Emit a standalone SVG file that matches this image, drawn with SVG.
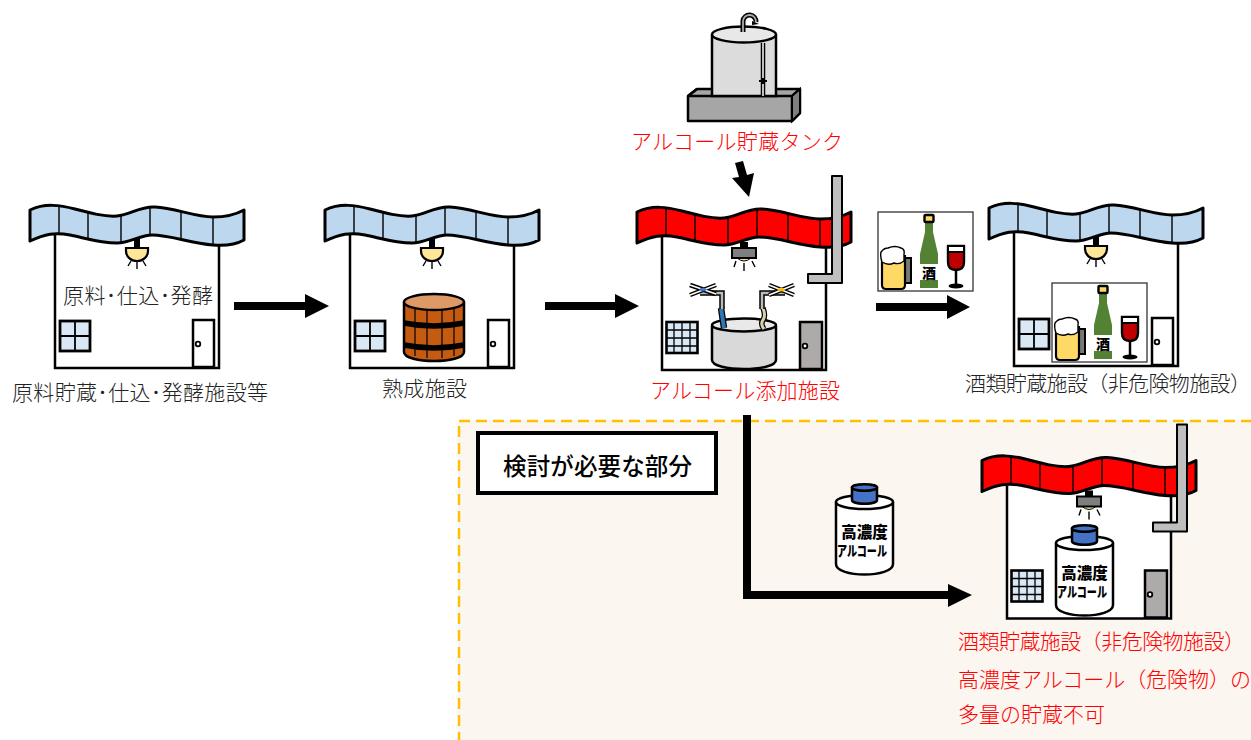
<svg xmlns="http://www.w3.org/2000/svg" width="1251" height="740" viewBox="0 0 1251 740">
<style>
.l{font-family:"Noto Sans CJK JP","Liberation Sans",sans-serif;font-weight:300;font-size:21px;fill:#222}
.r{fill:#ff0000}
.w{fill:#fff;stroke:#000;stroke-width:2.5}
.ln{fill:none;stroke:#000;stroke-width:1.4}
.b{font-family:"Noto Sans CJK JP","Liberation Sans",sans-serif;font-weight:900;fill:#000}
</style>
<defs>
<g id="roof">
<path stroke="#000" stroke-width="3" stroke-linejoin="round" d="M30,210C45,203 60,205 75,209C90,213 105,217 117,216C130,215 140,206 155,207C175,208 195,217 213,217C225,217 235,215 244,210L244,240C235,245 225,246 213,245C190,243 170,235 152,235C140,235 130,243 117,243C100,243 85,238 70,235C55,232 45,234 30,241Z"/>
<path class="ln" d="M59,206V233M88,212V238M121,216V243M150,207V235M181,211V239M213,217V245"/>
</g>
<g id="walls"><path fill="#fff" stroke="#000" stroke-width="2.5" d="M55,235V368H219V240"/></g>
<g id="lamp">
<rect x="134" y="239" width="6" height="10" fill="#000"/>
<path d="M126,248H148V251A11,10 0 0 1 126,251Z" fill="#ffe699" stroke="#000" stroke-width="2.200"/>
<path class="ln" d="M131,261L128,266M137,262V269M143,261L146,266"/>
</g>
<g id="lampg">
<rect x="133" y="240" width="8" height="8" fill="#000"/>
<path d="M130,256Q137,262 144,256Z" fill="#ffe699" stroke="#000"/>
<rect x="125" y="246" width="24" height="10" fill="#7f7f7f" stroke="#000" stroke-width="2"/>
<path class="ln" d="M129,259L127,265M137,261V269M145,259L148,265"/>
</g>
<g id="win">
<rect x="60" y="321" width="30" height="30" fill="#dae8f6" stroke="#000" stroke-width="2.800"/>
<path d="M75,321V351M60,336H90" stroke="#000" stroke-width="1.800"/>
</g>
<g id="door">
<rect x="193" y="320" width="21" height="47" class="w"/>
<circle cx="198" cy="344" r="2.300" fill="#fff" stroke="#000" stroke-width="1.800"/>
</g>
<g id="bldg">
<use href="#walls"/><use href="#lamp"/><use href="#win"/><use href="#door"/>
</g>
<g id="bldr">
<use href="#walls"/>
<use href="#lampg"/>
<rect x="59.500" y="320" width="31" height="31" fill="#dae8f6" stroke="#000" stroke-width="2.600"/>
<path d="M67,320V351M75,320V351M83,320V351M59.500,328H90.500M59.500,336H90.500M59.500,344H90.500" stroke="#000" stroke-width="1.300"/>
<rect x="193" y="320" width="22" height="47" fill="#aeaaaa" stroke="#000" stroke-width="2.500"/>
<circle cx="198" cy="344" r="2.300" fill="#fff" stroke="#000" stroke-width="1.800"/>
<use href="#roof" fill="#ff0000"/>
<path d="M225,174H235V281H201V272H225Z" fill="#bfbfbf" stroke="#000" stroke-width="2" stroke-linejoin="round"/>
</g>
<g id="alc">
<path d="M1056,544V605C1056,619 1113,619 1113,605V544Z" fill="#fff" stroke="#000" stroke-width="2.500"/>
<ellipse cx="1084.500" cy="543" rx="28.500" ry="7" fill="#fff" stroke="#000" stroke-width="2.500"/>
<path d="M1072,529V541C1072,546 1097,546 1097,541V529Z" fill="#4472c4" stroke="#000" stroke-width="2.500"/>
<ellipse cx="1084.500" cy="528.500" rx="12.500" ry="3.200" fill="#4472c4" stroke="#000" stroke-width="2.500"/>
<text class="b" x="1084.500" y="579" font-size="15.500" text-anchor="middle">高濃度</text>
<text class="b" x="1057" y="597" font-size="14" textLength="50" lengthAdjust="spacingAndGlyphs">アルコール</text>
</g>
<g id="drinks">
<path d="M905,258H911V283H905" fill="#777" stroke="#000" stroke-width="2"/>
<path d="M882,256V285Q882,289 886,289H901Q905,289 905,285V256Z" fill="#ffd966" stroke="#000" stroke-width="2.200"/>
<path d="M882,262Q880,256 881,252Q884,248 888,248Q895,245 901,248Q905,249 904,254V261Q899,265 894,263Q888,266 882,262Z" fill="#fff" stroke="#000" stroke-width="1.400"/>
<path d="M925,222H933V232L938,254V288H920V254L925,232Z" fill="#548235"/>
<rect x="924.500" y="215" width="9" height="7" rx="1" fill="#ffd966" stroke="#000" stroke-width="2.400"/>
<rect x="920" y="264" width="18" height="16" fill="#fff"/>
<text class="b" x="929" y="278" font-size="14" text-anchor="middle">酒</text>
<path d="M948,246H964V262Q964,270 956,270Q948,270 948,262Z" fill="#c00000" stroke="#000" stroke-width="2.400"/>
<path d="M948,246H964V252H948Z" fill="#fff" stroke="#000" stroke-width="2"/>
<path d="M956,270V284" stroke="#000" stroke-width="2.500"/>
<ellipse cx="956" cy="286" rx="7.500" ry="2.500" fill="#000"/>
</g>
</defs>

<rect id="panel" x="459" y="421" width="800" height="330" fill="#fbf6f0" stroke="#ffc000" stroke-width="2.500" stroke-dasharray="11 6"/>

<g id="connectors" fill="#000">
<path d="M234,302H305V294L329,306L305,318V310H234Z"/>
<path d="M545,302H615V294L639,306L615,318V310H545Z"/>
<path d="M876,303H947V295L970,307L947,319V311H876Z"/>
<path d="M735,163L743,161L747,175L754,173L749,197L732,178L739,177Z"/>
<path d="M743,415H751V591H948V584L972,595L948,607V599H743Z"/>
</g>

<g id="node-fermentation">
<use href="#bldg"/>
<use href="#roof" fill="#bdd7ee"/>
<text class="l" x="63" y="303" textLength="150">原料･仕込･発酵</text>
<text class="l" x="12" y="400" textLength="256">原料貯蔵･仕込･発酵施設等</text>
</g>

<g id="node-aging">
<g transform="translate(295,0)">
<use href="#bldg"/>
<use href="#roof" fill="#bdd7ee"/>
</g>
<path d="M404,303V352C404,364 464,364 464,352V303Z" fill="#c55a11" stroke="#000" stroke-width="2.500"/>
<path d="M404,323Q434,329 464,323M404,345Q434,351 464,345" fill="none" stroke="#000" stroke-width="5.500"/>
<path d="M415,307V356M427,309V358M442,309V358M454,307V356" stroke="#000" stroke-width="1.200"/>
<ellipse cx="434" cy="302" rx="30" ry="8" fill="#dd9966" stroke="#000" stroke-width="2.500"/>
<text class="l" x="382" y="396" textLength="85">熟成施設</text>
</g>

<g id="node-tank">
<path d="M697,89H800V113L792,121H688V96Z" fill="#a6a6a6" stroke="#000" stroke-width="2.500" stroke-linejoin="round"/>
<path d="M697,89L688,96M792,96L800,89M688,96H792V121" fill="none" stroke="#000" stroke-width="2.500"/>
<path d="M792,96L800,89V113L792,121Z" fill="#7f7f7f" stroke="#000" stroke-width="2"/>
<path d="M712,36V96H776V36Z" fill="#dcdcdc" stroke="#000" stroke-width="2.500"/>
<ellipse cx="744" cy="34.500" rx="32" ry="8" fill="#e8e8e8" stroke="#000" stroke-width="2.500"/>
<path d="M763,43V96" stroke="#000" stroke-width="4.500"/>
<path d="M763,43V96" stroke="#fff" stroke-width="1.500"/>
<path d="M759,81H767M763,78V84" stroke="#000" stroke-width="2"/>
<path d="M743,32V21A6.500,6.500 0 0 1 756,22" fill="none" stroke="#000" stroke-width="5"/>
<path d="M743,32V21A6.500,6.500 0 0 1 756,22" fill="none" stroke="#aaa" stroke-width="1.800"/>
<path d="M752,21L759,24L752,25Z" fill="#000"/>
<text class="l r" x="631" y="149" textLength="212">アルコール貯蔵タンク</text>
</g>

<g id="node-additive">
<g transform="translate(607,2)"><use href="#bldr"/></g>
<path d="M712,327V360C712,372 776,372 776,360V327Z" fill="#d9d9d9" stroke="#000" stroke-width="2.500"/>
<ellipse cx="744" cy="325" rx="32" ry="6.500" fill="#e9e9e9" stroke="#000" stroke-width="2.500"/>
<path d="M721,308L724,328" stroke="#000" stroke-width="6.500"/>
<path d="M721,308L724,328" stroke="#2e75b6" stroke-width="4"/>
<path d="M763,308Q766,316 763,320T764,329" stroke="#000" stroke-width="5.500" fill="none"/>
<path d="M763,308Q766,316 763,320T764,329" stroke="#d6cfa8" stroke-width="3" fill="none"/>
<path d="M722,309V293H700M762,309V293H785" fill="none" stroke="#000" stroke-width="5.500"/>
<path d="M722,309V293H700M762,309V293H785" fill="none" stroke="#bbb" stroke-width="2.500"/>
<path d="M690,285L716,294M690,295L716,285M769,295L794,285M769,285L794,295" stroke="#000" stroke-width="4.500"/>
<path d="M690,285L716,294M690,295L716,285M769,295L794,285M769,285L794,295" stroke="#fff" stroke-width="1.500"/>
<ellipse cx="703" cy="289.500" rx="3.500" ry="1.800" fill="#4472c4"/>
<ellipse cx="781" cy="289.500" rx="3.500" ry="1.800" fill="#ffc000"/>
<text class="l r" x="650" y="398" textLength="190">アルコール添加施設</text>
</g>

<g id="node-drinks">
<rect x="878" y="212" width="95" height="79" fill="#fff" stroke="#333" stroke-width="1.300"/>
<use href="#drinks"/>
</g>

<g id="node-storage">
<g transform="translate(959,-2)">
<use href="#bldg"/>
<use href="#roof" fill="#bdd7ee"/>
</g>
<rect x="1052" y="283" width="95" height="79" fill="#fff" stroke="#333" stroke-width="1.300"/>
<use href="#drinks" transform="translate(174,71)"/>
<text class="l" x="965" y="391" textLength="286">酒類貯蔵施設（非危険物施設）</text>
</g>

<g id="node-note">
<rect x="478" y="433" width="238" height="60" fill="#fff" stroke="#000" stroke-width="4"/>
<text x="503" y="475" textLength="189" font-size="23.500" font-weight="500" font-family="&quot;Noto Sans CJK JP&quot;,&quot;Liberation Sans&quot;,sans-serif" fill="#000">検討が必要な部分</text>
</g>

<g id="node-alcohol">
<use href="#alc" transform="translate(-220,-41)"/>
</g>

<g id="node-highconc">
<g transform="translate(952,250.500)"><use href="#bldr"/></g>
<use href="#alc"/>
<text class="l r" x="958" y="649" textLength="287">酒類貯蔵施設（非危険物施設）</text>
<text class="l r" x="958" y="687" textLength="293">高濃度アルコール（危険物）の</text>
<text class="l r" x="958" y="722" textLength="147">多量の貯蔵不可</text>
</g>
</svg>
